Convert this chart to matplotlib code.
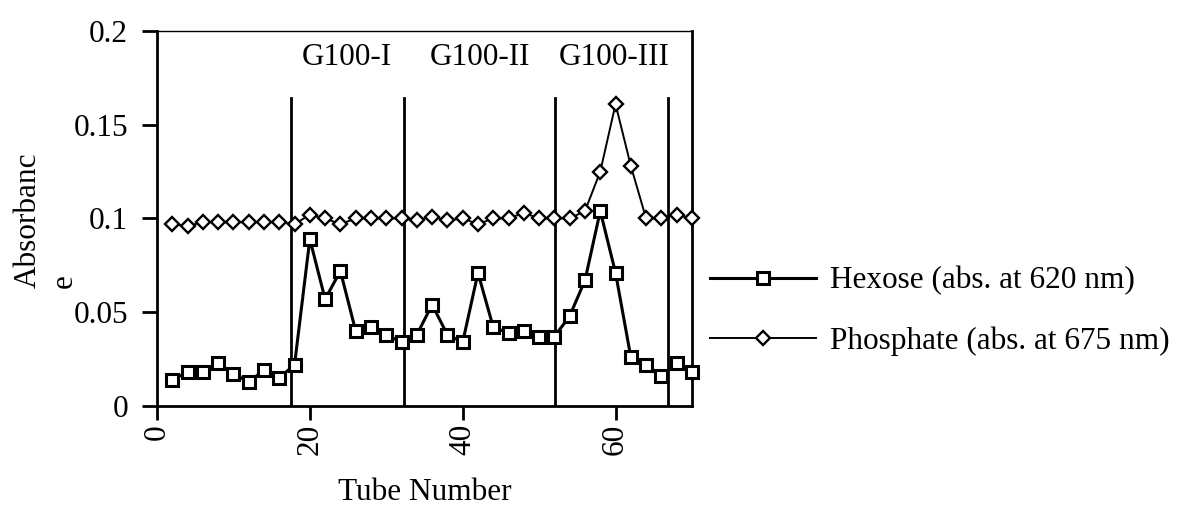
import matplotlib
matplotlib.use("Agg")
import matplotlib.pyplot as plt

# Fraction data from the G100 column
tube = [2, 4, 6, 8, 10, 12, 14, 16, 18, 20, 22, 24, 26, 28, 30, 32, 34, 36,
        38, 40, 42, 44, 46, 48, 50, 52, 54, 56, 58, 60, 62, 64, 66, 68, 70]
hexose = [0.014, 0.018, 0.018, 0.023, 0.017, 0.013, 0.019, 0.015, 0.022,
          0.089, 0.057, 0.072, 0.040, 0.042, 0.038, 0.034, 0.038, 0.054,
          0.038, 0.034, 0.071, 0.042, 0.039, 0.040, 0.037, 0.037, 0.048,
          0.067, 0.104, 0.071, 0.026, 0.022, 0.016, 0.023, 0.018]
phosphate = [0.097, 0.096, 0.098, 0.098, 0.098, 0.098, 0.098, 0.098, 0.097,
             0.102, 0.100, 0.097, 0.100, 0.100, 0.100, 0.100, 0.099, 0.101,
             0.099, 0.100, 0.097, 0.100, 0.100, 0.103, 0.100, 0.100, 0.100,
             0.104, 0.125, 0.161, 0.128, 0.100, 0.100, 0.102, 0.100]

# Fraction pool boundaries and names
boundaries = [17.5, 32.3, 52.1, 66.9]
pool_names = ["G100-I", "G100-II", "G100-III"]
pool_centers = [24.9, 42.2, 59.8]

x_ticks = [0, 20, 40, 60]
y_ticks = [0, 0.05, 0.1, 0.15, 0.2]
y_tick_labels = ["0", "0.05", "0.1", "0.15", "0.2"]

plt.rcParams["font.family"] = ["Liberation Serif", "DejaVu Serif"]
FS = 22.5

fig = plt.figure(figsize=(11.9, 5.13), dpi=100)
ax = fig.add_axes([0.1319, 0.2086, 0.4496, 0.7310])

h_line, = ax.plot(tube, hexose, color="black", lw=2.2, marker="s", ms=9,
                  mfc="white", mec="black", mew=2.2, zorder=4, clip_on=False)
p_line, = ax.plot(tube, phosphate, color="black", lw=1.4, marker="D", ms=7,
                  mfc="white", mec="black", mew=1.7, zorder=3, clip_on=False)

for b in boundaries:
    ax.plot([b, b], [0, 0.164], color="black", lw=2.0, zorder=2)

for name, c in zip(pool_names, pool_centers):
    ax.text(c, 0.186, name, ha="center", va="center", fontsize=FS)

ax.set_xlim(0, 70)
ax.set_ylim(0, 0.2)
ax.set_xticks(x_ticks)
ax.set_xticklabels([str(t) for t in x_ticks], rotation=90, fontsize=FS)
ax.set_yticks(y_ticks)
ax.set_yticklabels(y_tick_labels, fontsize=FS)
ax.tick_params(axis="x", direction="out", length=10, width=2, pad=3)
ax.tick_params(axis="y", direction="out", length=10.8, width=2, pad=10)

for side in ["left", "right", "bottom"]:
    ax.spines[side].set_linewidth(2.0)
ax.spines["top"].set_linewidth(1.0)

ax.set_xlabel("Tube Number", fontsize=FS, labelpad=16)
fig.text(46 / 1190, 1 - 220 / 513, "Absorbanc\ne", rotation=90, ha="center",
         va="center", multialignment="left", fontsize=FS, linespacing=1.3)

fig.legend([h_line, p_line],
           ["Hexose (abs. at 620 nm)", "Phosphate (abs. at 675 nm)"],
           loc="center left", bbox_to_anchor=(710 / 1190, 1 - 311 / 513),
           frameon=False, fontsize=FS, handlelength=3.4, handletextpad=0.44,
           labelspacing=0.98, borderpad=0, borderaxespad=0)

fig.savefig("out.png", dpi=100, facecolor="white")
